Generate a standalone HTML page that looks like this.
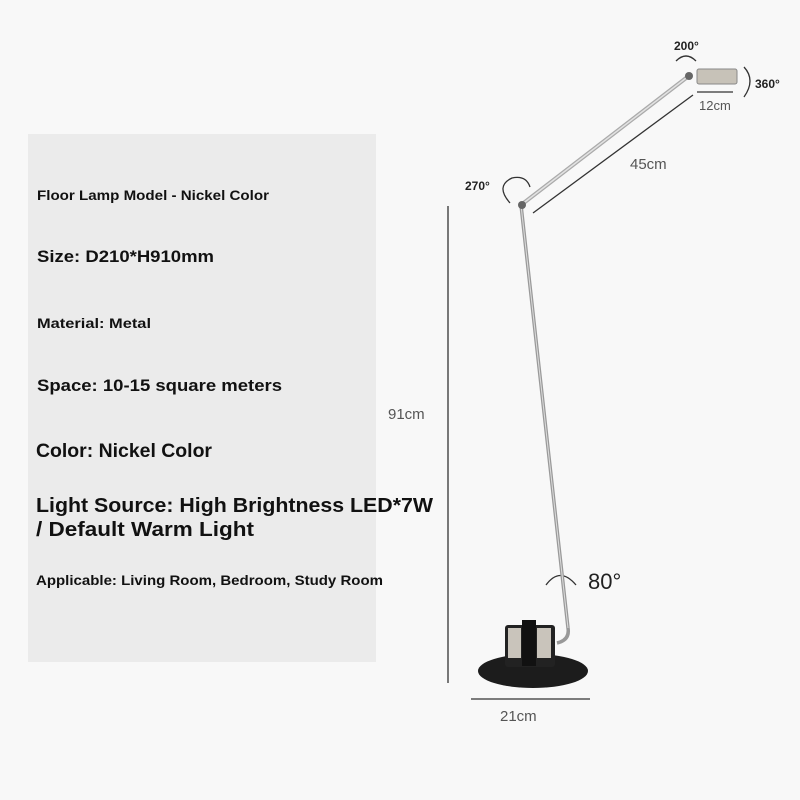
<!DOCTYPE html>
<html><head><style>
html,body{margin:0;padding:0;background:#f8f8f8;}
svg{display:block}
text{font-family:"Liberation Sans",sans-serif;}
</style></head><body>
<svg width="800" height="800" viewBox="0 0 800 800" xmlns="http://www.w3.org/2000/svg">
<rect width="800" height="800" fill="#f8f8f8"/>
<rect x="28" y="134" width="348" height="528" fill="#ebebeb"/>
<g font-weight="bold" fill="#111">
<text x="37" y="200" font-size="14" textLength="232" lengthAdjust="spacingAndGlyphs">Floor Lamp Model - Nickel Color</text>
<text x="37" y="262" font-size="17" textLength="177" lengthAdjust="spacingAndGlyphs">Size: D210*H910mm</text>
<text x="37" y="328" font-size="14" textLength="114" lengthAdjust="spacingAndGlyphs">Material: Metal</text>
<text x="37" y="391" font-size="17" textLength="245" lengthAdjust="spacingAndGlyphs">Space: 10-15 square meters</text>
<text x="36" y="457" font-size="19" textLength="176" lengthAdjust="spacingAndGlyphs">Color: Nickel Color</text>
<text x="36" y="512" font-size="20" textLength="397" lengthAdjust="spacingAndGlyphs">Light Source: High Brightness LED*7W</text>
<text x="36" y="536" font-size="20" textLength="218" lengthAdjust="spacingAndGlyphs">/ Default Warm Light</text>
<text x="36" y="585" font-size="14" textLength="347" lengthAdjust="spacingAndGlyphs">Applicable: Living Room, Bedroom, Study Room</text>
</g>
<!-- dimension lines -->
<g stroke="#333" stroke-width="1.3" fill="#333">
<line x1="448" y1="206" x2="448" y2="683"/>
<line x1="533" y1="213" x2="693" y2="95"/>
<line x1="697" y1="92" x2="733" y2="92"/>
<line x1="471" y1="699" x2="590" y2="699"/>
</g>
<g fill="#555" font-size="15">
<text x="388" y="419">91cm</text>
<text x="630" y="169">45cm</text>
<text x="500" y="721">21cm</text>
<text x="699" y="110" font-size="13">12cm</text>
</g>
<g fill="#222" font-weight="bold" font-size="12">
<text x="674" y="50">200°</text>
<text x="755" y="88">360°</text>
<text x="465" y="190">270°</text>
<text x="588" y="589" font-size="22" font-weight="normal">80°</text>
</g>
<g fill="none" stroke="#333" stroke-width="1.3">
<path d="M676 61 Q686 51 696 61"/>
<path d="M744 67 Q756 80 744 97"/>
<path d="M510 203 Q495 186 512 178 Q526 175 530 187"/>
<path d="M546 585 Q560 566 576 585"/>
</g>
<!-- pole -->
<path d="M521 205 L568 628 Q570 640 557 643" fill="none" stroke="#999" stroke-width="3.5"/>
<path d="M521 205 L568 628" fill="none" stroke="#ddd" stroke-width="1"/>
<line x1="521" y1="205" x2="690" y2="75" stroke="#aaa" stroke-width="4"/>
<line x1="521" y1="205" x2="690" y2="75" stroke="#e2e2e2" stroke-width="1.5"/>
<circle cx="522" cy="205" r="4" fill="#666"/>
<circle cx="689" cy="76" r="4" fill="#666"/>
<rect x="697" y="69" width="40" height="15" rx="2" fill="#c7c2b8" stroke="#888"/>
<!-- base -->
<ellipse cx="533" cy="671" rx="55" ry="17" fill="#1c1c1c"/>
<rect x="505" y="625" width="50" height="42" rx="3" fill="#222"/>
<rect x="508" y="628" width="13" height="30" fill="#c9c4bb"/>
<rect x="537" y="628" width="14" height="30" fill="#c9c4bb"/>
<rect x="522" y="620" width="14" height="46" fill="#111"/>
</svg>
</body></html>
